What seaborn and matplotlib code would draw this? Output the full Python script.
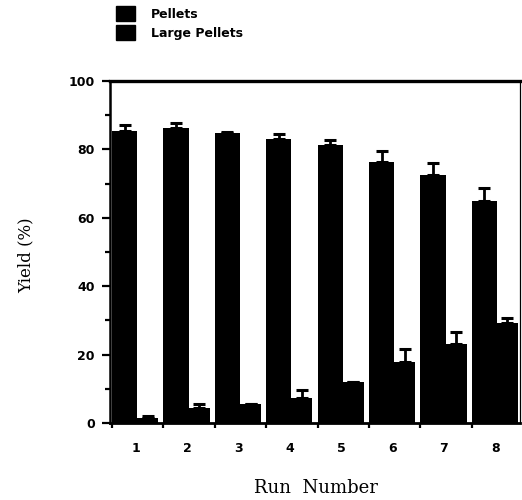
import matplotlib
matplotlib.use("Agg")
import matplotlib.pyplot as plt
import seaborn as sns
import pandas as pd
import numpy as np
from matplotlib.patches import Patch
from matplotlib.ticker import FixedLocator

# ---- data ----
runs = ["1", "2", "3", "4", "5", "6", "7", "8"]
series_names = ["Pellets", "Large Pellets"]
pellets = [85.5, 86.2, 84.7, 82.9, 81.3, 76.3, 72.4, 64.9]
pellets_err = [1.6, 1.6, 0.5, 1.6, 1.4, 3.3, 3.7, 3.7]
large = [1.5, 4.3, 5.5, 7.2, 12.0, 17.9, 23.1, 29.1]
large_err = [0.6, 1.4, 0.0, 2.4, 0.0, 3.6, 3.6, 1.7]
y_ticks = [0, 20, 40, 60, 80, 100]
y_minor = [10, 30, 50, 70, 90]

df = pd.DataFrame({
    "run": runs * 2,
    "yield": pellets + large,
    "type": [series_names[0]] * len(runs) + [series_names[1]] * len(runs),
})

sns.set_style("ticks")
plt.rcParams["font.family"] = ["DejaVu Sans"]
plt.rcParams["text.color"] = "black"
plt.rcParams["axes.labelcolor"] = "black"
plt.rcParams["xtick.color"] = "black"
plt.rcParams["ytick.color"] = "black"
plt.rcParams["axes.edgecolor"] = "black"

fig = plt.figure(figsize=(5.22, 5.0), dpi=100)
ax = fig.add_axes([110 / 522, 77 / 500, 410 / 522, 342 / 500])

sns.barplot(data=df, x="run", y="yield", hue="type", order=runs,
            hue_order=series_names, palette=["black", "black"],
            saturation=1, width=0.92, errorbar=None, legend=False,
            linewidth=0, ax=ax)

# adjust bar widths slightly (pellets wider than large pellets)
for p in ax.containers[0]:
    p.set_width(0.49)
for p in ax.containers[1]:
    p.set_x(p.get_x() + 0.03)
    p.set_width(0.41)

# upward-only error bars
for cont, errs in zip(ax.containers[:2], [pellets_err, large_err]):
    xs = [p.get_x() + p.get_width() / 2 for p in cont]
    ys = [p.get_height() for p in cont]
    ax.errorbar(xs, ys, yerr=[np.zeros(len(errs)), errs], fmt="none",
                ecolor="black", elinewidth=2, capsize=4.3, capthick=2.2,
                zorder=3)

ax.set_ylim(0, 100)
ax.set_xlim(-0.5, 7.48)
ax.set_yticks(y_ticks)
ax.yaxis.set_minor_locator(FixedLocator(y_minor))
ax.xaxis.set_minor_locator(FixedLocator([i - 0.46 for i in range(len(runs))]))

ax.tick_params(axis="y", which="major", length=6, width=1.6, pad=5,
               labelsize=9, direction="out", colors="black")
ax.tick_params(axis="y", which="minor", length=3.5, width=1.6, direction="out",
               colors="black")
ax.tick_params(axis="x", which="major", length=0, pad=14, labelsize=9,
               colors="black")
ax.tick_params(axis="x", which="minor", length=3.5, width=1.6, direction="out",
               colors="black")
for lab in ax.get_xticklabels() + ax.get_yticklabels():
    lab.set_fontweight("bold")
    lab.set_color("black")

for side, lw in [("left", 1.8), ("bottom", 2.0), ("top", 2.4), ("right", 0.9)]:
    ax.spines[side].set_visible(True)
    ax.spines[side].set_linewidth(lw)
    ax.spines[side].set_color("black")

ax.set_ylabel("Yield (%)", family="DejaVu Serif", fontsize=12, color="black")
ax.set_xlabel("Run  Number", family="DejaVu Serif", fontsize=13, color="black")
ax.yaxis.set_label_coords(-0.185, 0.49)
ax.xaxis.set_label_coords(0.502, -0.165)

handles = [Patch(facecolor="black", edgecolor="black") for _ in series_names]
leg = fig.legend(handles, series_names, loc="upper left",
                 bbox_to_anchor=(116 / 522, 1 - 6 / 500), frameon=False,
                 prop={"weight": "bold", "size": 9}, handlelength=1.5,
                 handleheight=1.5, handletextpad=1.3, labelspacing=0.3,
                 borderpad=0, borderaxespad=0)
for t in leg.get_texts():
    t.set_color("black")

fig.savefig("out.png", dpi=100)
